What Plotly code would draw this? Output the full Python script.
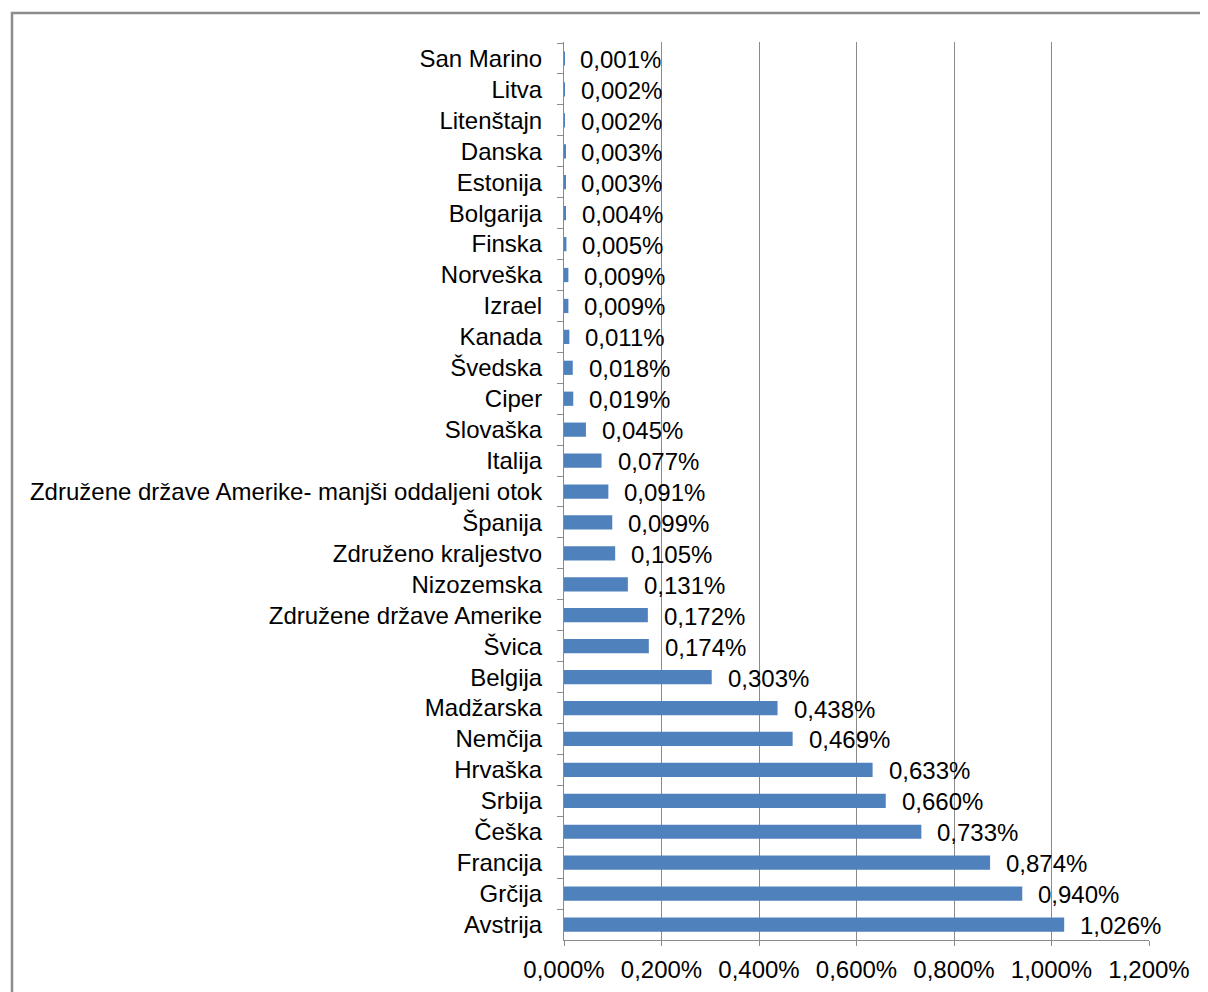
import plotly.graph_objects as go

countries = [
    "San Marino", "Litva", "Litenštajn", "Danska", "Estonija", "Bolgarija",
    "Finska", "Norveška", "Izrael", "Kanada", "Švedska", "Ciper", "Slovaška",
    "Italija", "Združene države Amerike- manjši oddaljeni otok", "Španija",
    "Združeno kraljestvo", "Nizozemska", "Združene države Amerike", "Švica",
    "Belgija", "Madžarska", "Nemčija", "Hrvaška", "Srbija", "Češka",
    "Francija", "Grčija", "Avstrija",
]
values = [
    0.001, 0.002, 0.002, 0.003, 0.003, 0.004, 0.005, 0.009, 0.009, 0.011,
    0.018, 0.019, 0.045, 0.077, 0.091, 0.099, 0.105, 0.131, 0.172, 0.174,
    0.303, 0.438, 0.469, 0.633, 0.660, 0.733, 0.874, 0.940, 1.026,
]
x_ticks = [0, 0.2, 0.4, 0.6, 0.8, 1.0, 1.2]
x_ticktext = [f"{t:.3f}%".replace(".", ",") for t in x_ticks]

FONT = "Liberation Sans, Arial, sans-serif"
FS = 24
GRID = "#8a8a8a"

# page has an 8px body margin; compensate so the plot lands where the reference has it
L, T, PW, PH = 556, 34, 585, 898
W, H = 1208, 992

fig = go.Figure()
fig.add_trace(go.Bar(
    y=countries, x=values, orientation="h",
    marker=dict(color="#4F81BD", line=dict(width=0)),
    width=0.46, hoverinfo="x+y",
))

for c, v in zip(countries, values):
    fig.add_annotation(
        x=v, y=c, xref="x", yref="y",
        text=f"{v:.3f}%".replace(".", ","),
        showarrow=False, xanchor="left", yanchor="middle",
        xshift=14, yshift=-1,
        font=dict(family=FONT, size=FS, color="#000000"),
    )

fig.update_layout(
    width=W, height=H,
    margin=dict(l=L, r=W - L - PW, t=T, b=H - T - PH),
    paper_bgcolor="white", plot_bgcolor="white",
    showlegend=False,
    font=dict(family=FONT, size=FS, color="#000000"),
    xaxis=dict(
        range=[0, 1.2], tickvals=x_ticks, ticktext=x_ticktext,
        showgrid=True, gridcolor=GRID, gridwidth=1,
        showline=True, linecolor=GRID, linewidth=1,
        ticks="outside", ticklen=5, tickcolor=GRID,
        zeroline=False, fixedrange=True, ticklabelstandoff=3,
        tickfont=dict(family=FONT, size=FS, color="#000000"),
    ),
    yaxis=dict(
        autorange="reversed", type="category",
        showline=True, linecolor=GRID, linewidth=1,
        ticks="outside", ticklen=6, tickcolor=GRID, tickson="boundaries",
        showgrid=False, zeroline=False,
        ticklabelstandoff=16,
        tickfont=dict(family=FONT, size=FS, color="#000000"),
    ),
    shapes=[dict(
        type="rect", xref="paper", yref="paper",
        x0=(4 - L) / PW, x1=2.0, y0=-0.5, y1=(T + PH - 5) / PH,
        line=dict(color="#8c8c8c", width=2.5), fillcolor="rgba(0,0,0,0)",
        layer="below",
    )],
)

fig.write_html("out.html")
